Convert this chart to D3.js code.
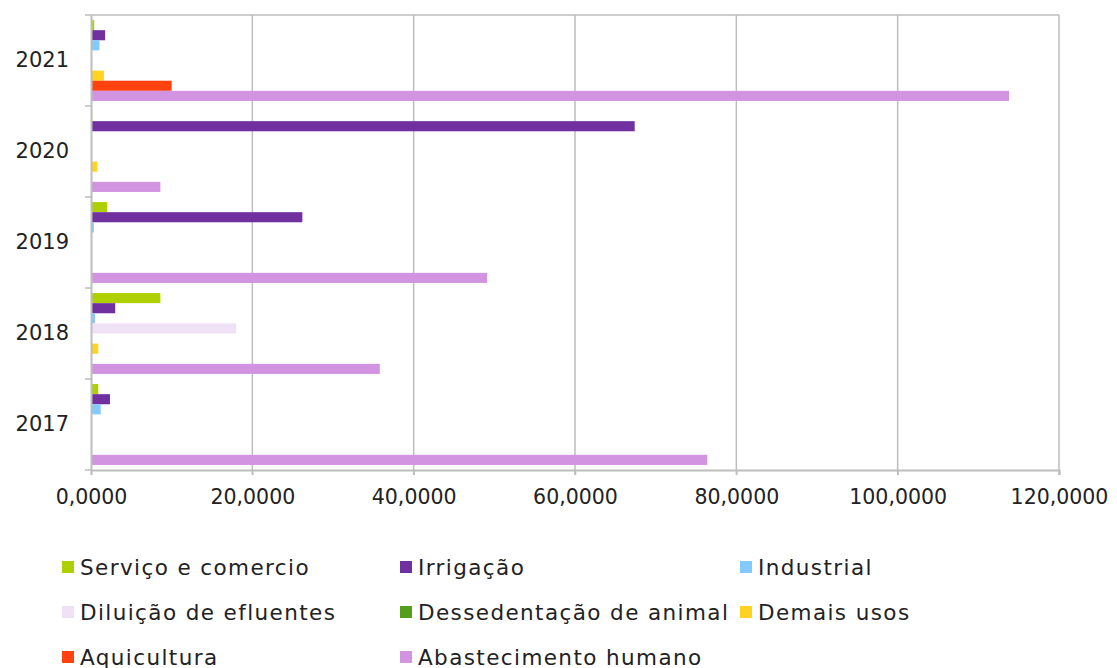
<!DOCTYPE html>
<html><head><meta charset="utf-8">
<script src="https://cdn.jsdelivr.net/npm/d3@7"></script>
<style>body{margin:0;background:#fff}svg{display:block}text{font-family:"DejaVu Sans",sans-serif;fill:#222}</style>
</head><body><svg id="c" width="1117" height="668"></svg>
<script>
const years = ["2021","2020","2019","2018","2017"];
const seriesNames = ["Serviço e comercio","Irrigação","Industrial","Diluição de efluentes","Dessedentação de animal","Demais usos","Aquicultura","Abastecimento humano"];
const seriesColors = ["#afd000","#7030a0","#83caff","#f0e2f6","#579d1c","#ffd320","#ff420e","#d294e0"];
// values per year, ordered as years
const servico      = [0.40, 0.15, 2.00, 8.60, 0.90];
const irrigacao    = [1.75, 67.40, 26.20, 3.00, 2.35];
const industrial   = [1.05, 0.00, 0.35, 0.50, 1.20];
const diluicao     = [0.00, 0.00, 0.00, 18.00, 0.00];
const dessedent    = [0.00, 0.00, 0.00, 0.00, 0.00];
const demaisUsos   = [1.60, 0.80, 0.00, 0.90, 0.00];
const aquicultura  = [10.00, 0.00, 0.00, 0.00, 0.00];
const abastecimento= [113.80, 8.60, 49.10, 35.80, 76.40];
const xTicks = [0,20,40,60,80,100,120];

const seriesValues = [servico, irrigacao, industrial, diluicao, dessedent, demaisUsos, aquicultura, abastecimento];

const svg = d3.select("#c");
const L=91, R=1059, T=15, B=470;
const x = d3.scaleLinear().domain([0,120]).range([L,R]);
const y0 = d3.scaleBand().domain(years).range([T,B]);
const y1 = d3.scaleBand().domain(d3.range(seriesNames.length)).range([0,y0.bandwidth()]).paddingOuter(0.5);
const fmt = d3.formatLocale({decimal:",",thousands:".",grouping:[3],currency:["",""]}).format(".4f");
const grid="#bdbdbd";

// gridlines
svg.append("g").selectAll("line").data(xTicks.slice(1)).join("line")
  .attr("x1",d=>x(d)).attr("x2",d=>x(d)).attr("y1",T).attr("y2",B+5)
  .attr("stroke",grid).attr("stroke-width",1.5);
// top border
svg.append("line").attr("x1",L).attr("x2",R).attr("y1",T).attr("y2",T).attr("stroke",grid).attr("stroke-width",1.5);

// bars
const g = svg.append("g");
years.forEach((yr,i)=>{
  seriesValues.forEach((vals,s)=>{
    if(vals[i]<=0) return;
    g.append("rect").attr("x",x(0)).attr("y",y0(yr)+y1(s))
      .attr("width",x(vals[i])-x(0)).attr("height",y1.bandwidth())
      .attr("fill",seriesColors[s]);
  });
});

// axes
const xa = svg.append("g").attr("transform",`translate(0,${B})`)
  .call(d3.axisBottom(x).tickValues(xTicks).tickFormat(fmt).tickSize(5).tickPadding(14));
xa.select(".domain").attr("stroke",grid).attr("stroke-width",2);
xa.selectAll(".tick line").attr("stroke",grid).attr("stroke-width",1.5);
xa.selectAll("text").attr("font-size",20.5).attr("fill","#222");

const ya = svg.append("g").attr("transform",`translate(${L},0)`)
  .call(d3.axisLeft(y0).tickSize(0).tickPadding(22));
ya.select(".domain").attr("stroke",grid).attr("stroke-width",2);
ya.selectAll("text").attr("font-size",21).attr("fill","#222");
// category boundary ticks
svg.append("g").selectAll("line").data(years.concat(["end"])).join("line")
  .attr("x1",L-6).attr("x2",L)
  .attr("y1",(d,i)=>T+i*y0.step()).attr("y2",(d,i)=>T+i*y0.step())
  .attr("stroke",grid).attr("stroke-width",1.5);

// legend
const colX=[62,400,740], rowY=[567,612,657];
const lg = svg.append("g").selectAll("g").data(seriesNames).join("g")
  .attr("transform",(d,i)=>`translate(${colX[i%3]},${rowY[Math.floor(i/3)]})`);
lg.append("rect").attr("x",0).attr("y",-6).attr("width",12).attr("height",12).attr("fill",(d,i)=>seriesColors[i]);
lg.append("text").attr("x",18).attr("y",0).attr("dy","0.35em").attr("font-size",21.5)
  .attr("letter-spacing","1.4px").text(d=>d);
</script></body></html>
